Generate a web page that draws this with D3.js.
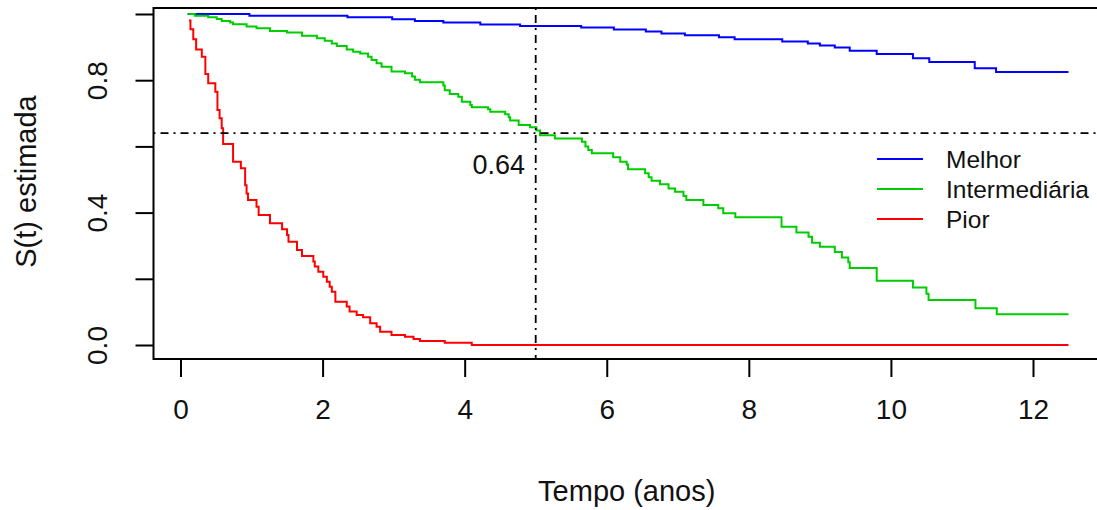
<!DOCTYPE html>
<html>
<head>
<meta charset="utf-8">
<script src="https://cdn.jsdelivr.net/npm/d3@7"></script>
<style>
  html, body { margin: 0; padding: 0; background: #fff; }
  svg { display: block; font-family: "Liberation Sans", Arial, sans-serif; }
</style>
</head>
<body>
<svg id="chart" width="1097" height="510"></svg>
<script>
// ---- data (time in years, estimated survival) ----
const seriesNames = ["Melhor", "Intermediária", "Pior"];
const seriesColors = ["#0000FF", "#00CD00", "#FF0000"];
const endTime = 12.5;

const melhor = [
  [0.10, 1.000], [0.97, 0.995], [2.35, 0.990], [2.98, 0.984], [3.30, 0.979],
  [3.70, 0.974], [4.22, 0.968], [4.78, 0.964], [5.64, 0.959], [6.10, 0.953],
  [6.55, 0.947], [6.77, 0.941], [7.10, 0.936], [7.58, 0.930], [7.80, 0.924],
  [8.47, 0.917], [8.83, 0.911], [9.00, 0.905], [9.21, 0.899], [9.42, 0.889],
  [9.80, 0.879], [10.31, 0.866], [10.54, 0.855], [11.18, 0.836], [11.48, 0.825]
];

const intermediaria = [
  [0.11, 1.000], [0.20, 0.995], [0.39, 0.990], [0.51, 0.985], [0.58, 0.979],
  [0.70, 0.974], [0.74, 0.969], [0.93, 0.962], [1.07, 0.957], [1.26, 0.949],
  [1.50, 0.944], [1.71, 0.934], [1.92, 0.927], [2.03, 0.919], [2.13, 0.911],
  [2.20, 0.903], [2.34, 0.893], [2.43, 0.886], [2.53, 0.881], [2.64, 0.871],
  [2.69, 0.861], [2.76, 0.851], [2.83, 0.841], [2.97, 0.826], [3.16, 0.821],
  [3.26, 0.811], [3.30, 0.801], [3.37, 0.794], [3.70, 0.784], [3.72, 0.770],
  [3.79, 0.758], [3.91, 0.750], [3.96, 0.735], [4.08, 0.725], [4.10, 0.718],
  [4.33, 0.712], [4.36, 0.705], [4.57, 0.697], [4.62, 0.688], [4.64, 0.678],
  [4.76, 0.665], [4.92, 0.658], [5.01, 0.648], [5.06, 0.634], [5.27, 0.624],
  [5.65, 0.614], [5.70, 0.600], [5.74, 0.589], [5.79, 0.579], [6.09, 0.567],
  [6.19, 0.554], [6.28, 0.545], [6.30, 0.531], [6.54, 0.519], [6.59, 0.507],
  [6.63, 0.496], [6.75, 0.486], [6.87, 0.473], [6.96, 0.463], [7.08, 0.450],
  [7.12, 0.438], [7.36, 0.423], [7.57, 0.413], [7.64, 0.398], [7.81, 0.386],
  [8.46, 0.357], [8.67, 0.340], [8.84, 0.327], [8.89, 0.309], [9.00, 0.297],
  [9.21, 0.281], [9.31, 0.264], [9.40, 0.250], [9.42, 0.233], [9.80, 0.194],
  [10.31, 0.174], [10.50, 0.155], [10.53, 0.136], [11.19, 0.111], [11.49, 0.093]
];

const pior = [
  [0.12, 0.980], [0.14, 0.954], [0.18, 0.924], [0.22, 0.893], [0.30, 0.871],
  [0.35, 0.819], [0.39, 0.791], [0.49, 0.765], [0.52, 0.710], [0.55, 0.685],
  [0.58, 0.655], [0.60, 0.607], [0.74, 0.554], [0.85, 0.534], [0.91, 0.483],
  [0.93, 0.458], [0.95, 0.438], [1.07, 0.418], [1.10, 0.393], [1.26, 0.368],
  [1.43, 0.350], [1.50, 0.332], [1.52, 0.312], [1.64, 0.287], [1.71, 0.269],
  [1.87, 0.252], [1.89, 0.237], [1.94, 0.221], [2.01, 0.206], [2.06, 0.191],
  [2.10, 0.176], [2.13, 0.161], [2.18, 0.131], [2.34, 0.116], [2.38, 0.101],
  [2.48, 0.091], [2.57, 0.084], [2.67, 0.066], [2.76, 0.055], [2.81, 0.040],
  [2.97, 0.030], [3.16, 0.025], [3.28, 0.018], [3.37, 0.012], [3.72, 0.007],
  [4.10, 0.000]
];

const xTicks = [0, 2, 4, 6, 8, 10, 12];
const yTicks = [0, 0.2, 0.4, 0.6, 0.8, 1.0];
const yTickLabels = ["0.0", "", "0.4", "", "0.8", ""];
const refTime = 5;
const refSurv = 0.64;
const refLabel = "0.64";
const xTitle = "Tempo (anos)";
const yTitle = "S(t) estimada";

// ---- layout ----
const svg = d3.select("#chart");
const x = d3.scaleLinear().domain([0, 12]).range([180.5, 1033]);
const y = d3.scaleLinear().domain([0, 1]).range([345, 14]);
const box = { left: 153.5, right: 1104, top: 8, bottom: 359 };

const seriesData = [melhor, intermediaria, pior];

// clip
svg.append("defs").append("clipPath").attr("id", "clip")
  .append("rect").attr("x", box.left).attr("y", box.top)
  .attr("width", box.right - box.left).attr("height", box.bottom - box.top);

const plot = svg.append("g").attr("clip-path", "url(#clip)");

const line = d3.line()
  .x(d => x(d[0])).y(d => y(d[1]))
  .curve(d3.curveStepAfter);

seriesData.forEach((s, i) => {
  const pts = s.concat([[endTime, s[s.length - 1][1]]]);
  plot.append("path")
    .attr("d", line(pts))
    .attr("fill", "none")
    .attr("stroke", seriesColors[i])
    .attr("stroke-width", 2);
});

// reference lines (dot-dash)
plot.append("line")
  .attr("x1", box.left).attr("x2", box.right)
  .attr("y1", y(refSurv)).attr("y2", y(refSurv))
  .attr("stroke", "#000").attr("stroke-width", 1.8)
  .attr("stroke-dasharray", "2,5,8,5");
plot.append("line")
  .attr("x1", x(refTime)).attr("x2", x(refTime))
  .attr("y1", box.top).attr("y2", box.bottom)
  .attr("stroke", "#000").attr("stroke-width", 1.8)
  .attr("stroke-dasharray", "2,5,8,5");

svg.append("text")
  .attr("x", x(refTime) - 37).attr("y", y(refSurv) + 41)
  .attr("text-anchor", "middle")
  .attr("font-size", 27)
  .attr("fill", "#111")
  .text(refLabel);

// box
svg.append("path")
  .attr("d", `M${box.right},${box.top}H${box.left}V${box.bottom}H${box.right}`)
  .attr("fill", "none").attr("stroke", "#000").attr("stroke-width", 2);

// x axis
const xAxis = d3.axisBottom(x).tickValues(xTicks).tickSize(18).tickPadding(22)
  .tickFormat(d3.format("d"));
const gx = svg.append("g").attr("transform", `translate(0,${box.bottom})`).call(xAxis);
gx.select(".domain").remove();
gx.selectAll(".tick line").attr("stroke", "#000").attr("stroke-width", 2);
gx.selectAll(".tick text").attr("font-size", 28).attr("fill", "#111")
  .attr("font-family", "'Liberation Sans', Arial, sans-serif");

// y axis
const yAxis = d3.axisLeft(y).tickValues(yTicks).tickSize(18).tickPadding(0)
  .tickFormat((d, i) => yTickLabels[i]);
const gy = svg.append("g").attr("transform", `translate(${box.left},0)`).call(yAxis);
gy.select(".domain").remove();
gy.selectAll(".tick line").attr("stroke", "#000").attr("stroke-width", 2);
gy.selectAll(".tick text")
  .attr("font-size", 28).attr("fill", "#111")
  .attr("font-family", "'Liberation Sans', Arial, sans-serif")
  .attr("text-anchor", "middle")
  .attr("dy", null)
  .attr("x", null)
  .attr("transform", "translate(-56,0) rotate(-90)")
  .attr("dominant-baseline", "central");

// axis titles
svg.append("text")
  .attr("x", (box.left + box.right) / 2 - 2).attr("y", 501)
  .attr("text-anchor", "middle").attr("font-size", 29).attr("fill", "#111")
  .text(xTitle);
svg.append("text")
  .attr("transform", `translate(36,${(box.top + box.bottom) / 2 - 2}) rotate(-90)`)
  .attr("text-anchor", "middle").attr("font-size", 29).attr("fill", "#111")
  .text(yTitle);

// legend
const legendY = [159, 189, 219];
const lg = svg.append("g");
seriesNames.forEach((n, i) => {
  lg.append("line")
    .attr("x1", 877).attr("x2", 923)
    .attr("y1", legendY[i]).attr("y2", legendY[i])
    .attr("stroke", seriesColors[i]).attr("stroke-width", 2);
  lg.append("text")
    .attr("x", 946).attr("y", legendY[i])
    .attr("dominant-baseline", "central")
    .attr("font-size", 24.5).attr("fill", "#111")
    .text(n);
});
</script>
</body>
</html>
